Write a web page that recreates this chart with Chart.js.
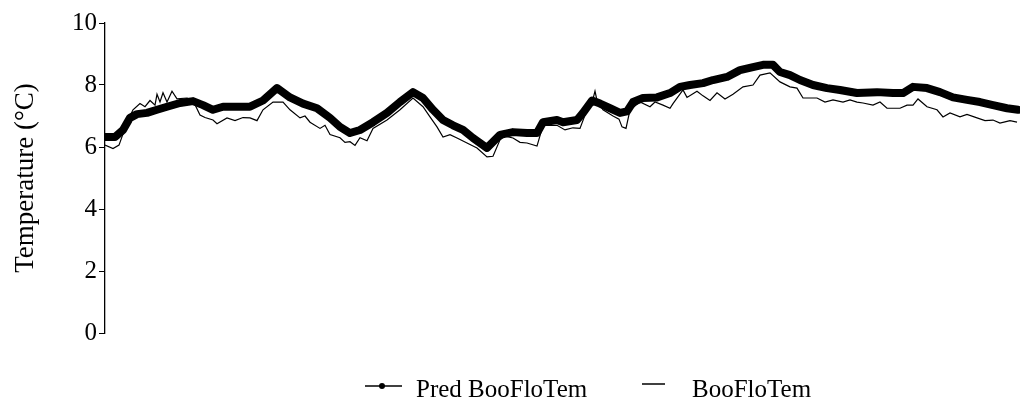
<!DOCTYPE html>
<html>
<head>
    <script src="https://cdn.jsdelivr.net/npm/chart.js@4/dist/chart.umd.min.js"></script>
    <style>
        body {
            margin: 0;
            background-color: #ffffff;
        }
        #wrap {
            width: 1020px;
            height: 400px;
        }
    </style>
</head>
<body>
    <div id="wrap"><canvas id="tempChart"></canvas></div>
    <script>
        // time steps (no scale shown on the x axis) and temperatures in °C
        var predTime = [0, 10, 18, 25, 32, 42, 52, 62, 75, 88, 98, 108, 118, 135, 145, 158, 172, 185, 198, 212,
            225, 235, 245, 255, 268, 282, 295, 308, 318, 328, 338, 348, 358, 368, 382, 395, 408, 422, 432, 438,
            452, 458, 472, 478, 487, 495, 505, 515, 522, 528, 538, 552, 565, 575, 585, 598, 608, 622, 635, 648,
            658, 668, 675, 685, 695, 708, 722, 735, 752, 772, 788, 798, 808, 822, 835, 848, 862, 875, 888, 902, 913];
        var predTemp = [6.32, 6.32, 6.55, 6.94, 7.06, 7.10, 7.20, 7.30, 7.42, 7.48, 7.35, 7.20, 7.30, 7.30, 7.30, 7.50, 7.90, 7.60, 7.40, 7.25,
            6.94, 6.65, 6.45, 6.55, 6.80, 7.10, 7.45, 7.77, 7.58, 7.20, 6.87, 6.70, 6.55, 6.29, 5.97, 6.39, 6.48, 6.45, 6.45, 6.80,
            6.87, 6.80, 6.87, 7.10, 7.50, 7.40, 7.25, 7.10, 7.15, 7.45, 7.58, 7.60, 7.74, 7.94, 8.00, 8.06, 8.16, 8.26, 8.48, 8.58,
            8.65, 8.65, 8.42, 8.32, 8.16, 8.00, 7.90, 7.84, 7.74, 7.77, 7.74, 7.74, 7.94, 7.90, 7.77, 7.60, 7.52, 7.45, 7.35, 7.25, 7.20];

        var obsTime = [0, 8, 14, 20, 25, 28, 35, 40, 45, 50, 52, 55, 58, 62, 67, 72, 82, 88, 95, 100,
            108, 112, 122, 130, 138, 145, 152, 158, 168, 178, 185, 195, 200, 205, 215, 220, 225, 235, 240, 245,
            250, 255, 262, 268, 282, 295, 308, 318, 325, 332, 338, 345, 352, 362, 372, 382, 388, 395, 400, 408,
            415, 422, 432, 438, 452, 460, 468, 475, 482, 488, 490, 492, 498, 508, 514, 517, 521, 525, 535, 545,
            550, 558, 565, 568, 578, 582, 592, 598, 605, 612, 620, 628, 638, 648, 655, 665, 675, 685, 692, 698,
            712, 720, 728, 738, 745, 752, 758, 768, 775, 782, 795, 802, 808, 813, 822, 832, 838, 845, 855, 862,
            872, 880, 888, 895, 905, 912];
        var obsTemp = [6.06, 5.95, 6.06, 6.60, 7.00, 7.20, 7.40, 7.30, 7.50, 7.35, 7.70, 7.45, 7.75, 7.45, 7.80, 7.55, 7.58, 7.50, 7.03, 6.95,
            6.87, 6.75, 6.94, 6.85, 6.95, 6.94, 6.85, 7.20, 7.45, 7.45, 7.20, 6.94, 7.00, 6.80, 6.60, 6.70, 6.40, 6.30, 6.15, 6.17,
            6.05, 6.30, 6.20, 6.60, 6.87, 7.20, 7.58, 7.30, 6.97, 6.65, 6.32, 6.40, 6.29, 6.13, 5.97, 5.68, 5.70, 6.23, 6.35, 6.29,
            6.15, 6.13, 6.03, 6.70, 6.70, 6.55, 6.62, 6.60, 7.20, 7.55, 7.80, 7.50, 7.20, 7.00, 6.90, 6.65, 6.60, 7.20, 7.45, 7.30,
            7.45, 7.35, 7.25, 7.40, 7.84, 7.60, 7.80, 7.65, 7.50, 7.75, 7.55, 7.70, 7.94, 8.00, 8.32, 8.39, 8.10, 7.94, 7.90, 7.58,
            7.58, 7.45, 7.52, 7.45, 7.52, 7.45, 7.42, 7.35, 7.45, 7.25, 7.25, 7.35, 7.35, 7.55, 7.30, 7.20, 6.97, 7.10, 6.97, 7.05,
            6.94, 6.85, 6.87, 6.77, 6.85, 6.80];

        var yTicks = [0, 2, 4, 6, 8, 10];
        var seriesNames = ['Pred BooFloTem', 'BooFloTem'];

        var serif = '"Liberation Serif", "Times New Roman", serif';

        function toPoints(xs, ys) {
            var pts = [];
            for (var i = 0; i < xs.length; i++) {
                pts.push({ x: xs[i], y: ys[i] });
            }
            return pts;
        }

        // legend drawn by hand so it sits low like the original
        var bottomLegend = {
            id: 'bottomLegend',
            afterDraw: function (chart) {
                var c = chart.ctx;
                var sets = chart.data.datasets;
                c.save();
                c.strokeStyle = '#000';
                c.fillStyle = '#000';
                c.lineWidth = 1.5;
                // Pred: line with a dot
                c.beginPath();
                c.moveTo(365, 386);
                c.lineTo(402, 386);
                c.stroke();
                c.beginPath();
                c.arc(382, 386, 3, 0, Math.PI * 2);
                c.fill();
                // observed: plain line
                c.beginPath();
                c.moveTo(642, 384);
                c.lineTo(665, 384);
                c.stroke();
                c.font = '25px ' + serif;
                c.textBaseline = 'alphabetic';
                c.fillText(sets[0].label, 416, 397);
                c.fillText(sets[1].label, 692, 397);
                c.restore();
            }
        };

        var ctx = document.getElementById('tempChart').getContext('2d');
        var tempChart = new Chart(ctx, {
            type: 'line',
            data: {
                datasets: [{
                    label: seriesNames[0],
                    data: toPoints(predTime, predTemp),
                    borderColor: '#000',
                    backgroundColor: '#000',
                    borderWidth: 8,
                    borderCapStyle: 'round',
                    borderJoinStyle: 'round',
                    pointRadius: 0,
                    order: 2
                }, {
                    label: seriesNames[1],
                    data: toPoints(obsTime, obsTemp),
                    borderColor: '#000',
                    backgroundColor: '#000',
                    borderWidth: 1.2,
                    pointRadius: 0,
                    order: 1
                }]
            },
            options: {
                responsive: true,
                maintainAspectRatio: false,
                animation: false,
                layout: {
                    padding: { left: 0, right: 0, top: 23, bottom: 67 }
                },
                scales: {
                    x: {
                        type: 'linear',
                        display: false,
                        min: 0,
                        max: 915
                    },
                    y: {
                        min: 0,
                        max: 10,
                        afterFit: function (scale) {
                            scale.width = 105; // keeps the axis line where it was
                        },
                        afterBuildTicks: function (scale) {
                            scale.ticks = yTicks.map(function (v) { return { value: v }; });
                        },
                        grid: {
                            drawOnChartArea: false,
                            drawTicks: true,
                            tickLength: 6,
                            color: '#000'
                        },
                        border: {
                            display: true,
                            color: '#000',
                            width: 1.3
                        },
                        ticks: {
                            padding: 2,
                            color: '#000',
                            font: { family: serif, size: 25 }
                        },
                        title: {
                            display: true,
                            text: 'Temperature (°C)',
                            color: '#000',
                            padding: { top: 10, bottom: 0 },
                            font: { family: serif, size: 27 }
                        }
                    }
                },
                plugins: {
                    legend: { display: false },
                    tooltip: { enabled: false }
                },
                elements: {
                    line: { tension: 0 }
                }
            },
            plugins: [bottomLegend]
        });
    </script>
</body>
</html>
